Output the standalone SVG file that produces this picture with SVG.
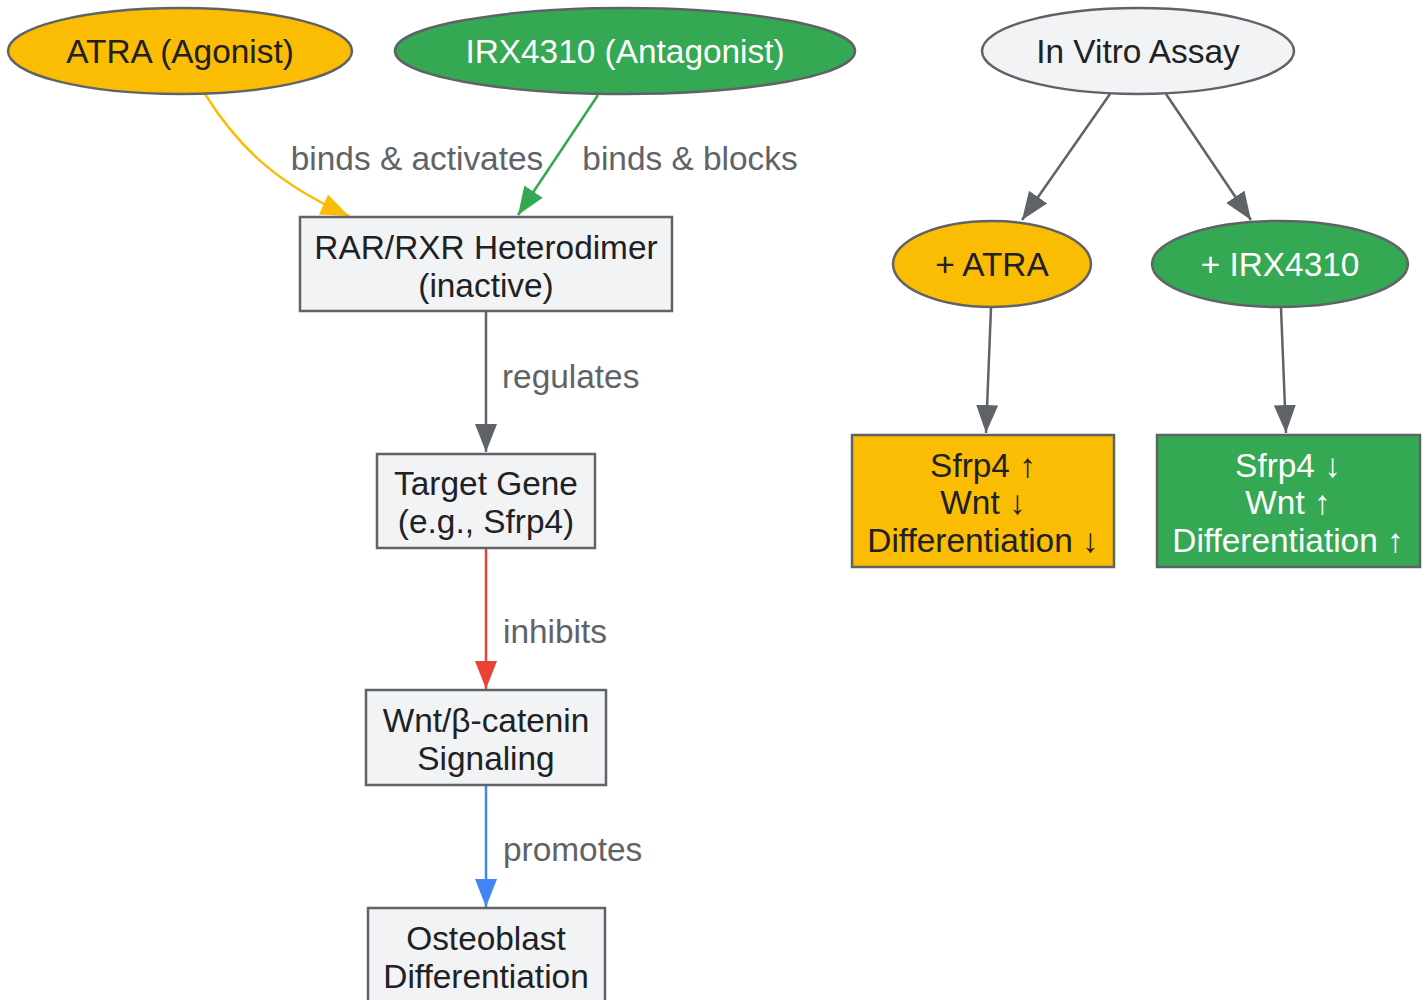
<svg xmlns="http://www.w3.org/2000/svg" width="1428" height="1000" viewBox="0 0 1428 1000">
<style>
text{font-family:"Liberation Sans",Arial,sans-serif;font-size:33.4px;text-anchor:middle}
.dark{fill:#202124}
.light{fill:#ffffff}
.lbl{fill:#5F6368}
.node{stroke:#5F6368;stroke-width:2.5}
.grey{fill:#F1F3F4}
.yel{fill:#FBBC04}
.grn{fill:#34A853}
.e{fill:none;stroke-width:2.5}
</style>
<defs>
<marker id="aY" markerUnits="userSpaceOnUse" markerWidth="30" markerHeight="24" refX="28" refY="11" orient="auto"><path d="M0,0 L28,11 L0,22 z" fill="#FBBC04"/></marker>
<marker id="aG" markerUnits="userSpaceOnUse" markerWidth="30" markerHeight="24" refX="28" refY="11" orient="auto"><path d="M0,0 L28,11 L0,22 z" fill="#34A853"/></marker>
<marker id="aK" markerUnits="userSpaceOnUse" markerWidth="30" markerHeight="24" refX="28" refY="11" orient="auto"><path d="M0,0 L28,11 L0,22 z" fill="#5F6368"/></marker>
<marker id="aR" markerUnits="userSpaceOnUse" markerWidth="30" markerHeight="24" refX="28" refY="11" orient="auto"><path d="M0,0 L28,11 L0,22 z" fill="#EA4335"/></marker>
<marker id="aB" markerUnits="userSpaceOnUse" markerWidth="30" markerHeight="24" refX="28" refY="11" orient="auto"><path d="M0,0 L28,11 L0,22 z" fill="#4285F4"/></marker>
</defs>
<rect width="1428" height="1000" fill="#ffffff"/>
<g id="connectors">
<path class="e" stroke="#FBBC04" marker-end="url(#aY)" d="M205,94 C240,150 280,185 349,216"/>
<path class="e" stroke="#34A853" marker-end="url(#aG)" d="M598,95 L518,215"/>
<path class="e" stroke="#5F6368" marker-end="url(#aK)" d="M486,312 L486,452"/>
<path class="e" stroke="#EA4335" marker-end="url(#aR)" d="M486,549 L486,689"/>
<path class="e" stroke="#4285F4" marker-end="url(#aB)" d="M486,786 L486,907"/>
<path class="e" stroke="#5F6368" marker-end="url(#aK)" d="M1110,94 L1022,220"/>
<path class="e" stroke="#5F6368" marker-end="url(#aK)" d="M1166,94 L1251,220"/>
<path class="e" stroke="#5F6368" marker-end="url(#aK)" d="M991,308 L986,433"/>
<path class="e" stroke="#5F6368" marker-end="url(#aK)" d="M1281,308 L1286,433"/>
<text class="lbl" x="417" y="170">binds &amp; activates</text>
<text class="lbl" x="690" y="170">binds &amp; blocks</text>
<text class="lbl" x="502" y="388" style="text-anchor:start">regulates</text>
<text class="lbl" x="503" y="643" style="text-anchor:start">inhibits</text>
<text class="lbl" x="503" y="861" style="text-anchor:start">promotes</text>
</g>
<g id="atra">
<ellipse class="node yel" cx="180" cy="51" rx="172" ry="43"/>
<text class="dark" x="180" y="63">ATRA (Agonist)</text>
</g>
<g id="irx">
<ellipse class="node grn" cx="625" cy="51" rx="230" ry="43"/>
<text class="light" x="625" y="63">IRX4310 (Antagonist)</text>
</g>
<g id="invitro">
<ellipse class="node grey" cx="1138" cy="51" rx="156" ry="43"/>
<text class="dark" x="1138" y="63">In Vitro Assay</text>
</g>
<g id="rar">
<rect class="node grey" x="300" y="217" width="372" height="94"/>
<text class="dark" x="486" y="259">RAR/RXR Heterodimer</text>
<text class="dark" x="486" y="297">(inactive)</text>
</g>
<g id="target">
<rect class="node grey" x="377" y="454" width="218" height="94"/>
<text class="dark" x="486" y="495">Target Gene</text>
<text class="dark" x="486" y="533">(e.g., Sfrp4)</text>
</g>
<g id="wnt">
<rect class="node grey" x="366" y="690" width="240" height="95"/>
<text class="dark" x="486" y="732">Wnt/β-catenin</text>
<text class="dark" x="486" y="770">Signaling</text>
</g>
<g id="osteo">
<rect class="node grey" x="368" y="908" width="237" height="100"/>
<text class="dark" x="486" y="950">Osteoblast</text>
<text class="dark" x="486" y="988">Differentiation</text>
</g>
<g id="plusatra">
<ellipse class="node yel" cx="992" cy="264" rx="99" ry="43"/>
<text class="dark" x="992" y="276">+ ATRA</text>
</g>
<g id="plusirx">
<ellipse class="node grn" cx="1280" cy="264" rx="128" ry="43"/>
<text class="light" x="1280" y="276">+ IRX4310</text>
</g>
<g id="resatra">
<rect class="node yel" x="852" y="435" width="262" height="132"/>
<text class="dark" x="983" y="477">Sfrp4 ↑</text>
<text class="dark" x="983" y="514">Wnt ↓</text>
<text class="dark" x="983" y="552">Differentiation ↓</text>
</g>
<g id="resirx">
<rect class="node grn" x="1157" y="435" width="263" height="132"/>
<text class="light" x="1288" y="477">Sfrp4 ↓</text>
<text class="light" x="1288" y="514">Wnt ↑</text>
<text class="light" x="1288" y="552">Differentiation ↑</text>
</g>
</svg>
